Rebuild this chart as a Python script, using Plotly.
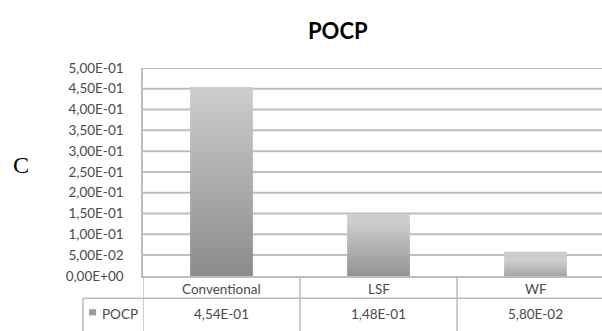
import plotly.graph_objects as go

# POCP results per construction system
categories = ["Conventional", "LSF", "WF"]
pocp_values = [0.454, 0.148, 0.058]
series_name = "POCP"
y_ticks = [0.0, 0.05, 0.10, 0.15, 0.20, 0.25, 0.30, 0.35, 0.40, 0.45, 0.50]

W, H = 602, 331


def sci_comma(v):
    # scientific notation with a decimal comma, e.g. 4,54E-01
    return f"{v:.2E}".replace(".", ",")


def py(pixel_row):
    # pixel row (from top) -> paper y
    return (H - pixel_row) / H


def px(pixel_col):
    return pixel_col / W


BAR_W = 0.40
LABEL_FONT = dict(family="Lato, Open Sans, sans-serif", size=13.5, color="#4a4a4a")
TABLE_LINE = "#bdbdbd"
GRID_LINE = "#bdbdbd"

fig = go.Figure()

# horizontal gridlines at every tick above zero, drawn as a line trace beneath the columns
grid_x, grid_y = [], []
for t in y_ticks:
    if t > 0:
        grid_x += [-0.5, 3.0, None]
        grid_y += [t, t, None]
fig.add_trace(go.Scatter(x=grid_x, y=grid_y, mode="lines",
                         line=dict(color=GRID_LINE, width=2),
                         hoverinfo="skip", showlegend=False))

# gradient-filled columns
for i, (cat, v) in enumerate(zip(categories, pocp_values)):
    x0, x1 = i - BAR_W / 2, i + BAR_W / 2
    fig.add_trace(go.Scatter(
        x=[x0, x1, x1, x0, x0],
        y=[0, 0, v, v, 0],
        mode="none",
        fill="toself",
        fillgradient=dict(
            type="vertical",
            start=0,
            stop=v,
            colorscale=[[0, "#888888"], [1, "#cdcdcd"]],
        ),
        name=cat,
        hoverinfo="text",
        text=f"{cat}: {sci_comma(v)}",
        showlegend=False,
    ))

annotations = []
shapes = []

# category row and value row of the data table
for i, (cat, v) in enumerate(zip(categories, pocp_values)):
    annotations.append(dict(x=i, y=py(295), xref="x", yref="paper", text=cat,
                            showarrow=False, font=LABEL_FONT,
                            xanchor="center", yanchor="middle"))
    annotations.append(dict(x=i, y=py(322), xref="x", yref="paper", text=sci_comma(v),
                            showarrow=False, font=LABEL_FONT,
                            xanchor="center", yanchor="middle"))

# table grid: column separators
for b in [-0.5, 0.5, 1.5, 2.5]:
    shapes.append(dict(type="line", xref="x", yref="paper", x0=b, x1=b,
                       y0=py(281.5), y1=py(340),
                       line=dict(color=TABLE_LINE, width=1.5)))
# row separator (extends left over the legend cell)
shapes.append(dict(type="line", xref="paper", yref="paper", x0=px(83), x1=1.0,
                   y0=py(305), y1=py(305), line=dict(color=TABLE_LINE, width=1.5)))
# legend cell left border
shapes.append(dict(type="line", xref="paper", yref="paper", x0=px(83), x1=px(83),
                   y0=py(305), y1=py(340), line=dict(color=TABLE_LINE, width=1.5)))
# legend key
shapes.append(dict(type="rect", xref="paper", yref="paper", x0=px(89), x1=px(96),
                   y0=py(323), y1=py(316.5), fillcolor="#9d9d9d", line=dict(width=0)))
annotations.append(dict(x=px(100), y=py(322), xref="paper", yref="paper", text=series_name,
                        showarrow=False, font=LABEL_FONT, xanchor="left", yanchor="middle"))

# panel letter
annotations.append(dict(x=px(21), y=py(165), xref="paper", yref="paper", text="C",
                        showarrow=False,
                        font=dict(family="Liberation Serif, Times New Roman, serif",
                                  size=24, color="#000000"),
                        xanchor="center", yanchor="middle"))

# title
annotations.append(dict(x=px(338), y=py(24), xref="paper", yref="paper", text="<b>POCP</b>",
                        showarrow=False,
                        font=dict(family="Lato, Open Sans, sans-serif", size=22, color="#000000"),
                        xanchor="center", yanchor="middle"))

cat_px = 157.0
dom_x0 = 143.0
x_span = (W - dom_x0) / cat_px

fig.update_layout(
    width=W, height=H,
    margin=dict(l=0, r=0, t=0, b=0),
    paper_bgcolor="#ffffff",
    plot_bgcolor="#ffffff",
    showlegend=False,
    annotations=annotations,
    shapes=shapes,
    xaxis=dict(
        domain=[px(dom_x0), 1.0],
        range=[-0.5, -0.5 + x_span],
        showgrid=False, zeroline=False,
        showticklabels=False, ticks="",
        showline=True, linecolor=TABLE_LINE, linewidth=1.5,
        fixedrange=True,
    ),
    yaxis=dict(
        domain=[py(281.5), py(63)],
        range=[0, 0.5],
        tickmode="array",
        tickvals=y_ticks,
        ticktext=[sci_comma(t) for t in y_ticks],
        tickfont=LABEL_FONT,
        ticks="",
        ticklabelstandoff=15,
        showgrid=False,
        zeroline=False,
        showline=True, linecolor=TABLE_LINE, linewidth=1.5,
        fixedrange=True,
    ),
)

fig.write_html("out.html")
